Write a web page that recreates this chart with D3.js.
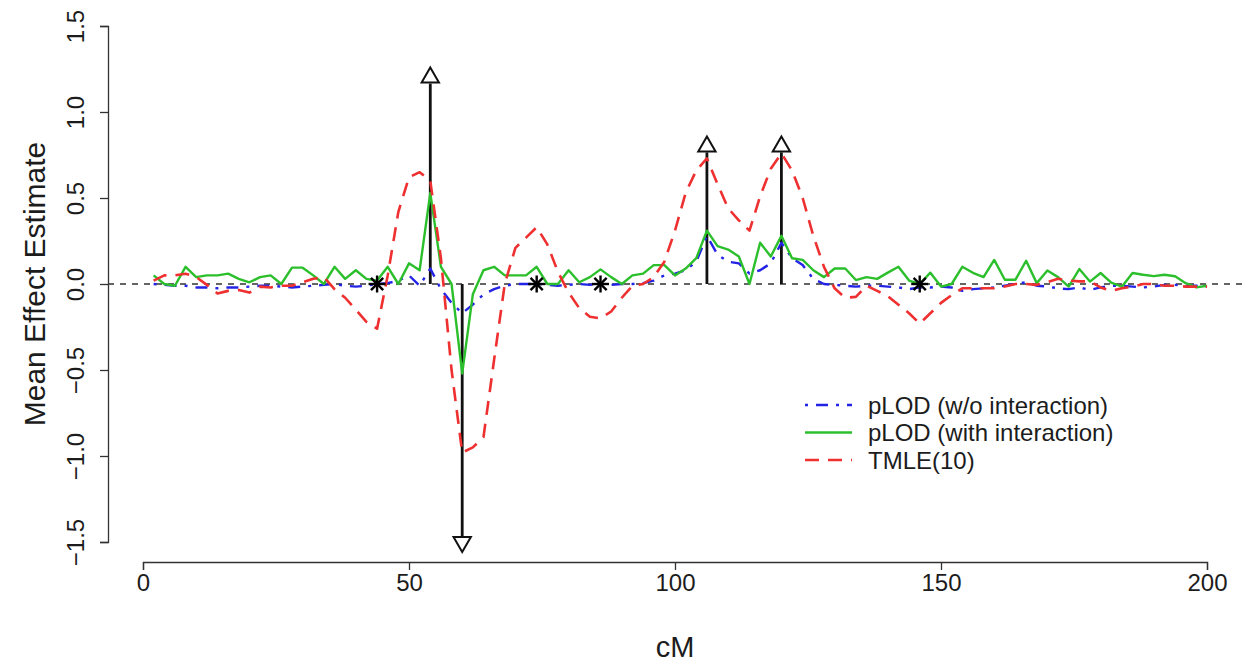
<!DOCTYPE html>
<html>
<head>
<meta charset="utf-8">
<script src="https://cdn.jsdelivr.net/npm/d3@7"></script>
<style>
  html, body { margin: 0; padding: 0; background: #ffffff; }
  svg { display: block; }
  text { font-family: "Liberation Sans", Arial, sans-serif; fill: #1c1c1c; }
</style>
</head>
<body>
<svg id="chart" width="1248" height="664"></svg>
<script>
// Marker positions along the chromosome (cM)
const cM = [
  2, 4, 6, 8, 10, 12, 14, 16, 18, 20, 22, 24, 26, 28, 30, 32, 34, 36, 38, 40,
  42, 44, 46, 48, 50, 52, 54, 56, 58, 60, 62, 64, 66, 68, 70, 72, 74, 76, 78, 80,
  82, 84, 86, 88, 90, 92, 94, 96, 98, 100, 102, 104, 106, 108, 110, 112, 114, 116, 118, 120,
  122, 124, 126, 128, 130, 132, 134, 136, 138, 140, 142, 144, 146, 148, 150, 152, 154, 156, 158, 160,
  162, 164, 166, 168, 170, 172, 174, 176, 178, 180, 182, 184, 186, 188, 190, 192, 194, 196, 198, 200
];

// Mean effect estimates per marker
const pLODNoInteraction = [
  0.0, -0.005, -0.01, -0.01, -0.02, -0.02, -0.025, -0.02, -0.02, -0.015,
  -0.01, -0.01, -0.015, -0.02, -0.015, -0.01, -0.005, 0.0, -0.01, -0.015,
  -0.01, 0.0, 0.005, 0.02, 0.05, -0.01, 0.09, -0.03, -0.11, -0.17,
  -0.12, -0.06, -0.03, -0.01, 0.0, 0.0, 0.0, -0.005, -0.01, -0.005,
  0.0, -0.005, 0.0, -0.005, 0.0, 0.0, 0.005, 0.02, 0.05, 0.06,
  0.08, 0.13, 0.28, 0.17, 0.13, 0.12, 0.06, 0.08, 0.12, 0.24,
  0.15, 0.11, 0.03, 0.0, -0.005, -0.01, -0.015, -0.01, -0.01, -0.015,
  -0.02, -0.03, -0.02, -0.02, -0.015, -0.02, -0.04, -0.03, -0.025, -0.02,
  -0.01, 0.0, 0.01, -0.01, -0.015, -0.025, -0.03, -0.02, -0.035, -0.02,
  -0.01, -0.01, -0.015, -0.02, -0.015, -0.005, -0.005, -0.01, -0.01, -0.015
];

const pLODInteraction = [
  0.05, 0.0, -0.01, 0.10, 0.04, 0.05, 0.05, 0.06, 0.03, 0.01,
  0.04, 0.05, 0.0, 0.095, 0.095, 0.05, 0.0, 0.10, 0.03, 0.08,
  0.03, 0.02, 0.10, 0.0, 0.12, 0.08, 0.53, 0.10, 0.0, -0.52,
  -0.06, 0.08, 0.10, 0.05, 0.05, 0.05, 0.10, 0.0, 0.0, 0.08,
  0.01, 0.04, 0.085, 0.04, 0.0, 0.05, 0.06, 0.11, 0.11, 0.05,
  0.09, 0.15, 0.31, 0.22, 0.20, 0.16, 0.0, 0.24, 0.16, 0.28,
  0.15, 0.14, 0.08, 0.04, 0.09, 0.09, 0.023, 0.04, 0.03, 0.066,
  0.10, 0.02, 0.0, 0.066, -0.015, 0.0, 0.10, 0.065, 0.04, 0.14,
  0.025, 0.025, 0.135, 0.005, 0.078, 0.04, -0.015, 0.087, 0.014, 0.064,
  0.008, -0.016, 0.064, 0.054, 0.046, 0.054, 0.045, 0.005, -0.02, -0.01
];

const tmle10 = [
  0.02, 0.05, 0.05, 0.06, 0.04, -0.005, -0.055, -0.04, -0.035, -0.05,
  -0.015, -0.02, -0.01, -0.01, 0.01, 0.03, 0.04, -0.03, -0.08, -0.15,
  -0.22, -0.26, 0.05, 0.42, 0.62, 0.65, 0.60, 0.15, -0.50, -0.98,
  -0.95, -0.89, -0.44, 0.0, 0.21, 0.27, 0.33, 0.23, 0.07, -0.05,
  -0.14, -0.19, -0.20, -0.16, -0.08, -0.01, 0.0, 0.04, 0.13, 0.31,
  0.53, 0.66, 0.73, 0.58, 0.44, 0.37, 0.31, 0.51, 0.67, 0.76,
  0.66, 0.50, 0.28, 0.10, -0.025, -0.08, -0.075, -0.01, -0.04, -0.07,
  -0.12, -0.17, -0.23, -0.17, -0.11, -0.065, -0.025, -0.025, -0.025, -0.025,
  -0.015, 0.0, 0.0, -0.005, 0.01, 0.03, 0.02, 0.015, 0.015, -0.02,
  -0.04, -0.025, -0.015, 0.0, 0.0, -0.01, -0.01, -0.015, -0.015, -0.015
];

// True QTL positions and effects; null markers
const qtlPos = [54, 60, 106, 120];
const qtlEffect = [1.2, -1.5, 0.8, 0.8];
const nullPos = [44, 74, 86, 146];

const xTicks = [0, 50, 100, 150, 200];
const yTicks = [-1.5, -1.0, -0.5, 0.0, 0.5, 1.0, 1.5];
const seriesNames = ["pLOD (w/o interaction)", "pLOD (with interaction)", "TMLE(10)"];

// ---- layout ----
const plotLeft = 108, plotRight = 1260, plotTop = 5, plotBottom = 563;
const x = d3.scaleLinear().domain([0, 200]).range([143, 1207]);
const y = d3.scaleLinear().domain([-1.5, 1.5]).range([542, 26]);

const svg = d3.select("#chart");

const styles = [
  { color: "#2323e6", width: 2.4, dash: "3,8,12,8" },
  { color: "#2cbf2c", width: 2.4, dash: null },
  { color: "#ee3030", width: 2.6, dash: "14,9" }
];

// zero reference line
svg.append("line")
  .attr("x1", plotLeft).attr("x2", plotRight)
  .attr("y1", y(0)).attr("y2", y(0))
  .attr("stroke", "#333").attr("stroke-width", 1.3)
  .attr("stroke-dasharray", "6,6");

// QTL effect sticks
svg.append("g").selectAll("line").data(qtlPos).join("line")
  .attr("x1", d => x(d)).attr("x2", d => x(d))
  .attr("y1", y(0))
  .attr("y2", (d, i) => y(qtlEffect[i]) + (qtlEffect[i] > 0 ? 6 : -6))
  .attr("stroke", "#111").attr("stroke-width", 2.8);

// series lines
const line = d3.line().x((d, i) => x(cM[i])).y(d => y(d));
[pLODNoInteraction, pLODInteraction, tmle10].forEach((vals, k) => {
  svg.append("path")
    .datum(vals)
    .attr("d", line)
    .attr("fill", "none")
    .attr("stroke", styles[k].color)
    .attr("stroke-width", styles[k].width)
    .attr("stroke-linejoin", "round")
    .attr("stroke-dasharray", styles[k].dash);
});

// QTL triangles (up for positive, down for negative)
const tri = d3.symbol().type(d3.symbolTriangle).size(130);
svg.append("g").selectAll("path").data(qtlPos).join("path")
  .attr("d", tri)
  .attr("transform", (d, i) => `translate(${x(d)},${y(qtlEffect[i])}) rotate(${qtlEffect[i] > 0 ? 0 : 180})`)
  .attr("fill", "white").attr("stroke", "#111").attr("stroke-width", 2);

// null markers (asterisks)
const star = svg.append("g").selectAll("g").data(nullPos).join("g")
  .attr("transform", d => `translate(${x(d)},${y(0)})`);
const r = 8.5;
[[0, -r, 0, r], [-r, 0, r, 0], [-r * 0.72, -r * 0.72, r * 0.72, r * 0.72], [-r * 0.72, r * 0.72, r * 0.72, -r * 0.72]]
  .forEach(s => {
    star.append("line")
      .attr("x1", s[0]).attr("y1", s[1]).attr("x2", s[2]).attr("y2", s[3])
      .attr("stroke", "#000").attr("stroke-width", 2.4);
  });

// axes
const xAxis = svg.append("g").attr("transform", `translate(0,${plotBottom - 1})`)
  .call(d3.axisBottom(x).tickValues(xTicks).tickSize(8).tickFormat(d3.format("d")));
const yAxis = svg.append("g").attr("transform", `translate(${plotLeft},0)`)
  .call(d3.axisLeft(y).tickValues(yTicks).tickSize(8).tickFormat(d3.format(".1f")));

[xAxis, yAxis].forEach(g => {
  g.select(".domain").attr("stroke", "#333").attr("stroke-width", 1.3);
  g.selectAll(".tick line").attr("stroke", "#333").attr("stroke-width", 1.3);
  g.selectAll(".tick text").attr("font-size", 24).attr("fill", "#1c1c1c")
    .style("font-family", "'Liberation Sans', Arial, sans-serif");
});
xAxis.selectAll(".tick text").attr("dy", null).attr("y", 29);
yAxis.selectAll(".tick text")
  .attr("x", null).attr("dy", null)
  .attr("text-anchor", "middle")
  .attr("transform", "translate(-24,0) rotate(-90)");

// axis titles
svg.append("text").attr("x", x(100)).attr("y", 657)
  .attr("text-anchor", "middle").attr("font-size", 29).text("cM");
svg.append("text")
  .attr("transform", `translate(45,${(plotTop + plotBottom) / 2}) rotate(-90)`)
  .attr("text-anchor", "middle").attr("font-size", 30).text("Mean Effect Estimate");

// legend
const legend = svg.append("g").attr("transform", "translate(805,405)");
seriesNames.forEach((name, k) => {
  const row = legend.append("g").attr("transform", `translate(0,${k * 27.5})`);
  row.append("line").attr("x1", 0).attr("x2", 47).attr("y1", 0).attr("y2", 0)
    .attr("stroke", styles[k].color).attr("stroke-width", styles[k].width)
    .attr("stroke-dasharray", styles[k].dash);
  row.append("text").attr("x", 63).attr("y", 0).attr("dy", "0.36em")
    .attr("font-size", 24).text(name);
});
</script>
</body>
</html>
